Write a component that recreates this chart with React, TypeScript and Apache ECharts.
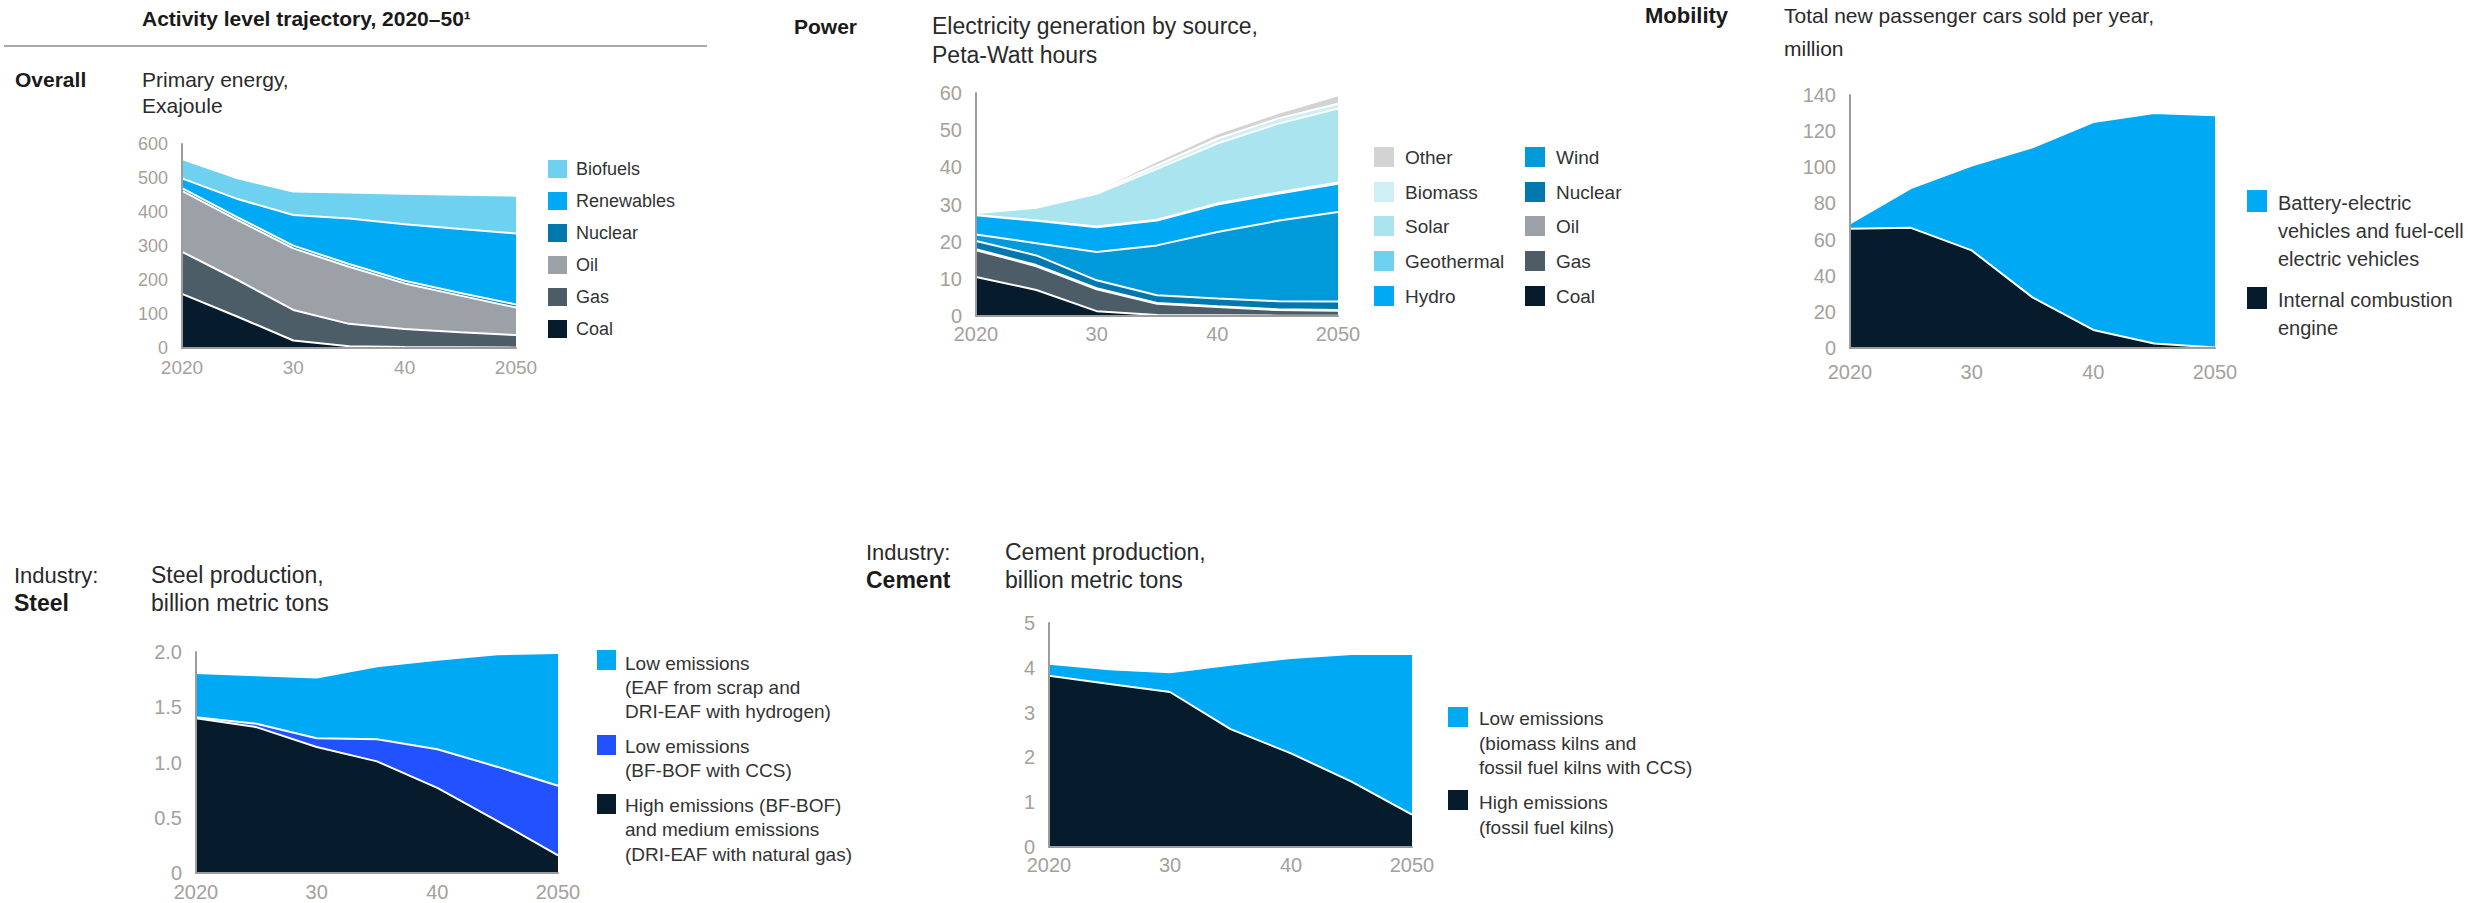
import React, { useEffect, useRef } from "react";
import * as echarts from "echarts";

// ---- Data -------------------------------------------------------------
const years = ["2020", "2025", "2030", "2035", "2040", "2045", "2050"];

// Primary energy, EJ (stack bottom -> top)
const primaryCoal = [159, 92, 22, 5, 3, 2, 1];
const primaryGas = [124, 108, 90, 66, 53, 44, 37];
const primaryOil = [179, 176, 181, 168, 134, 108, 81];
const primaryNuclear = [8, 8, 8, 8, 8, 8, 9];
const primaryRenewables = [29, 54, 90, 134, 166, 188, 209];
const primaryBiofuels = [57, 61, 69, 76, 90, 101, 111];

// Electricity generation, PWh (stack bottom -> top)
const powerCoal = [10.5, 7.0, 1.3, 0.3, 0.2, 0.1, 0.1];
const powerGas = [7.2, 6.4, 5.9, 3.0, 2.2, 1.5, 1.3];
const powerOil = [0.3, 0.3, 0.3, 0.2, 0.2, 0.2, 0.2];
const powerNuclear = [2.2, 2.6, 2.1, 2.1, 2.1, 2.2, 2.3];
const powerWind = [1.7, 3.3, 7.6, 13.4, 17.9, 21.6, 24.1];
const powerHydro = [5.2, 6.0, 6.7, 6.7, 7.4, 7.3, 7.6];
const powerGeothermal = [0.1, 0.1, 0.2, 0.2, 0.3, 0.3, 0.3];
const powerSolar = [0.5, 3.4, 8.8, 13.7, 16.1, 18.5, 19.9];
const powerBiomass = [0.2, 0.2, 0.5, 0.9, 1.3, 1.4, 1.3];
const powerOther = [0.2, 0.2, 0.4, 1.2, 1.4, 1.5, 2.3];

// New passenger cars, million
const carsICE = [66, 66.5, 54, 28, 10, 2.5, 0.3];
const carsBEV = [3, 22, 47, 83, 115, 127.5, 128.5];

// Steel production, billion t
const steelHigh = [1.4, 1.32, 1.14, 1.01, 0.77, 0.47, 0.16];
const steelCCS = [0.01, 0.03, 0.08, 0.2, 0.35, 0.49, 0.63];
const steelEAF = [0.4, 0.44, 0.55, 0.66, 0.81, 1.02, 1.2];

// Cement production, billion t
const cementHigh = [3.82, 3.64, 3.46, 2.63, 2.09, 1.46, 0.72];
const cementLow = [0.27, 0.33, 0.44, 1.44, 2.13, 2.85, 3.59];

// ---- Palette ----------------------------------------------------------
const C = {
  coal: "#061b2b",
  gas: "#4d5d68",
  oil: "#9ba1a7",
  nuclear: "#0077ad",
  wind: "#0099da",
  hydro: "#00a9f4",
  geothermal: "#6dd1ef",
  solar: "#a9e4ef",
  biomass: "#cdeff5",
  other: "#d3d3d3",
  ccs: "#2251ff",
};

const FONT = '"Liberation Sans", Arial, Helvetica, sans-serif';
const TICK_COLOR = "#a6a09b";
const AXIS_COLOR = "#9c9c9c";

type Layer = { name: string; data: number[]; color: string };

function stack(gridIndex: number, id: string, layers: Layer[]) {
  return layers.map((l, i) => ({
    type: "line",
    name: l.name,
    xAxisIndex: gridIndex,
    yAxisIndex: gridIndex,
    stack: id,
    data: l.data,
    symbol: "none",
    showSymbol: false,
    z: 10 + (layers.length - i),
    lineStyle: { color: "#ffffff", width: 2 },
    areaStyle: { color: l.color, opacity: 1 },
    itemStyle: { color: l.color },
    emphasis: { disabled: true },
  }));
}

const yearLabel = (v: string) => (v === "2020" || v === "2050" ? v : v.slice(2));

function xAxis(gridIndex: number, fontSize: number, margin: number) {
  return {
    type: "category",
    gridIndex,
    data: years,
    boundaryGap: false,
    z: 30,
    axisTick: { show: false },
    axisLine: { show: true, lineStyle: { color: AXIS_COLOR, width: 2 } },
    axisLabel: {
      interval: 1,
      formatter: yearLabel,
      color: TICK_COLOR,
      fontSize,
      fontFamily: FONT,
      margin,
    },
    splitLine: { show: false },
  };
}

function yAxis(gridIndex: number, max: number, interval: number, fontSize: number, fmt?: (v: number) => string) {
  return {
    type: "value",
    gridIndex,
    min: 0,
    max,
    interval,
    z: 30,
    axisTick: { show: false },
    axisLine: { show: true, lineStyle: { color: AXIS_COLOR, width: 2 } },
    splitLine: { show: false },
    axisLabel: {
      color: TICK_COLOR,
      fontSize,
      fontFamily: FONT,
      margin: 14,
      formatter: fmt,
    },
  };
}

// ---- Graphic helpers --------------------------------------------------
function text(x: number, y: number, t: string, size = 21, bold = false, color = "#2a2a2a") {
  return {
    type: "text",
    x,
    y,
    silent: true,
    style: {
      text: t,
      fill: color,
      font: `${bold ? "bold " : ""}${size}px ${FONT}`,
      verticalAlign: "middle",
      align: "left",
    },
  };
}

function rect(x: number, y: number, w: number, h: number, color: string) {
  return { type: "rect", silent: true, shape: { x, y, width: w, height: h }, style: { fill: color } };
}

// single-line legend rows
function legendRows(
  items: { label: string; color: string }[],
  swX: number,
  txtX: number,
  rows: number[],
  sw: number,
  sh: number,
  size: number
) {
  const out: any[] = [];
  items.forEach((it, i) => {
    out.push(rect(swX, rows[i] - sh / 2, sw, sh, it.color));
    out.push(text(txtX, rows[i], it.label, size, false, "#333333"));
  });
  return out;
}

// multi-line legend blocks
function legendBlocks(
  items: { lines: string[]; color: string; top: number; lineY: number[] }[],
  swX: number,
  txtX: number,
  sw: number,
  sh: number,
  size: number
) {
  const out: any[] = [];
  items.forEach((it) => {
    out.push(rect(swX, it.top, sw, sh, it.color));
    it.lines.forEach((ln, j) => out.push(text(txtX, it.lineY[j], ln, size, false, "#333333")));
  });
  return out;
}

const steelFmt = (v: number) => (v === 0 ? "0" : v.toFixed(1));

function buildOption() {
  const graphic: any[] = [
    // header block
    text(142, 18, "Activity level trajectory, 2020–50¹", 21, true, "#1a1a1a"),
    { type: "line", silent: true, shape: { x1: 4, y1: 46, x2: 707, y2: 46 }, style: { stroke: "#8c8c8c", lineWidth: 1.5 } },

    text(15, 79, "Overall", 21, true, "#1a1a1a"),
    text(142, 79, "Primary energy,"),
    text(142, 105, "Exajoule"),

    text(794, 26, "Power", 21, true, "#1a1a1a"),
    text(932, 26, "Electricity generation by source,", 23),
    text(932, 55, "Peta-Watt hours", 23),

    text(1645, 15, "Mobility", 22, true, "#1a1a1a"),
    text(1784, 15, "Total new passenger cars sold per year,"),
    text(1784, 48, "million"),

    text(14, 575, "Industry:", 22),
    text(14, 603, "Steel", 23, true, "#1a1a1a"),
    text(151, 575, "Steel production,", 23),
    text(151, 603, "billion metric tons", 23),

    text(866, 552, "Industry:", 22),
    text(866, 580, "Cement", 23, true, "#1a1a1a"),
    text(1005, 552, "Cement production,", 23),
    text(1005, 580, "billion metric tons", 23),

    ...legendRows(
      [
        { label: "Biofuels", color: C.geothermal },
        { label: "Renewables", color: C.hydro },
        { label: "Nuclear", color: C.nuclear },
        { label: "Oil", color: C.oil },
        { label: "Gas", color: C.gas },
        { label: "Coal", color: C.coal },
      ],
      548,
      576,
      [169, 201, 233, 265, 297, 329],
      19,
      18,
      18
    ),

    ...legendRows(
      [
        { label: "Other", color: C.other },
        { label: "Biomass", color: C.biomass },
        { label: "Solar", color: C.solar },
        { label: "Geothermal", color: C.geothermal },
        { label: "Hydro", color: C.hydro },
      ],
      1374,
      1405,
      [157, 192, 226, 261, 296],
      20,
      20,
      19
    ),
    ...legendRows(
      [
        { label: "Wind", color: C.wind },
        { label: "Nuclear", color: C.nuclear },
        { label: "Oil", color: C.oil },
        { label: "Gas", color: C.gas },
        { label: "Coal", color: C.coal },
      ],
      1525,
      1556,
      [157, 192, 226, 261, 296],
      20,
      20,
      19
    ),

    ...legendBlocks(
      [
        {
          lines: ["Battery-electric", "vehicles and fuel-cell", "electric vehicles"],
          color: C.hydro,
          top: 190,
          lineY: [203, 231, 259],
        },
        { lines: ["Internal combustion", "engine"], color: C.coal, top: 287, lineY: [300, 328] },
      ],
      2247,
      2278,
      20,
      22,
      20
    ),

    ...legendBlocks(
      [
        {
          lines: ["Low emissions", "(EAF from scrap and", "DRI-EAF with hydrogen)"],
          color: C.hydro,
          top: 650,
          lineY: [663, 687, 711],
        },
        { lines: ["Low emissions", "(BF-BOF with CCS)"], color: C.ccs, top: 735, lineY: [746, 770] },
        {
          lines: ["High emissions (BF-BOF)", "and medium emissions", "(DRI-EAF with natural gas)"],
          color: C.coal,
          top: 794,
          lineY: [805, 829, 854],
        },
      ],
      597,
      625,
      19,
      20,
      19
    ),

    ...legendBlocks(
      [
        {
          lines: ["Low emissions", "(biomass kilns and", "fossil fuel kilns with CCS)"],
          color: C.hydro,
          top: 707,
          lineY: [718, 743, 767],
        },
        { lines: ["High emissions", "(fossil fuel kilns)"], color: C.coal, top: 790, lineY: [802, 827] },
      ],
      1448,
      1479,
      20,
      20,
      19
    ),
  ];

  return {
    animation: false,
    backgroundColor: "#ffffff",
    textStyle: { fontFamily: FONT },
    grid: [
      { left: 182, top: 144, width: 334, height: 204 },
      { left: 976, top: 93, width: 362, height: 223 },
      { left: 1850, top: 95, width: 365, height: 253 },
      { left: 196, top: 652, width: 362, height: 221 },
      { left: 1049, top: 623, width: 363, height: 224 },
    ],
    xAxis: [xAxis(0, 19, 10), xAxis(1, 20, 8), xAxis(2, 20, 14), xAxis(3, 20, 9), xAxis(4, 20, 8)],
    yAxis: [
      yAxis(0, 600, 100, 18),
      yAxis(1, 60, 10, 20),
      yAxis(2, 140, 20, 20),
      yAxis(3, 2, 0.5, 20, steelFmt),
      yAxis(4, 5, 1, 20),
    ],
    series: [
      ...stack(0, "primary", [
        { name: "Coal", data: primaryCoal, color: C.coal },
        { name: "Gas", data: primaryGas, color: C.gas },
        { name: "Oil", data: primaryOil, color: C.oil },
        { name: "Nuclear", data: primaryNuclear, color: C.nuclear },
        { name: "Renewables", data: primaryRenewables, color: C.hydro },
        { name: "Biofuels", data: primaryBiofuels, color: C.geothermal },
      ]),
      ...stack(1, "power", [
        { name: "Coal", data: powerCoal, color: C.coal },
        { name: "Gas", data: powerGas, color: C.gas },
        { name: "Oil", data: powerOil, color: C.oil },
        { name: "Nuclear", data: powerNuclear, color: C.nuclear },
        { name: "Wind", data: powerWind, color: C.wind },
        { name: "Hydro", data: powerHydro, color: C.hydro },
        { name: "Geothermal", data: powerGeothermal, color: C.geothermal },
        { name: "Solar", data: powerSolar, color: C.solar },
        { name: "Biomass", data: powerBiomass, color: C.biomass },
        { name: "Other", data: powerOther, color: C.other },
      ]),
      ...stack(2, "cars", [
        { name: "Internal combustion engine", data: carsICE, color: C.coal },
        { name: "Battery-electric vehicles and fuel-cell electric vehicles", data: carsBEV, color: C.hydro },
      ]),
      ...stack(3, "steel", [
        { name: "High emissions", data: steelHigh, color: C.coal },
        { name: "Low emissions (BF-BOF with CCS)", data: steelCCS, color: C.ccs },
        { name: "Low emissions (EAF)", data: steelEAF, color: C.hydro },
      ]),
      ...stack(4, "cement", [
        { name: "High emissions", data: cementHigh, color: C.coal },
        { name: "Low emissions", data: cementLow, color: C.hydro },
      ]),
    ],
    graphic,
  };
}

export default function App() {
  const ref = useRef<HTMLDivElement>(null);

  useEffect(() => {
    document.body.style.margin = "0";
    if (!ref.current) return;
    const chart = echarts.init(ref.current, null, { renderer: "svg" });
    chart.setOption(buildOption() as any);
    return () => chart.dispose();
  }, []);

  return <div ref={ref} style={{ width: 2468, height: 903, background: "#fff" }} />;
}
